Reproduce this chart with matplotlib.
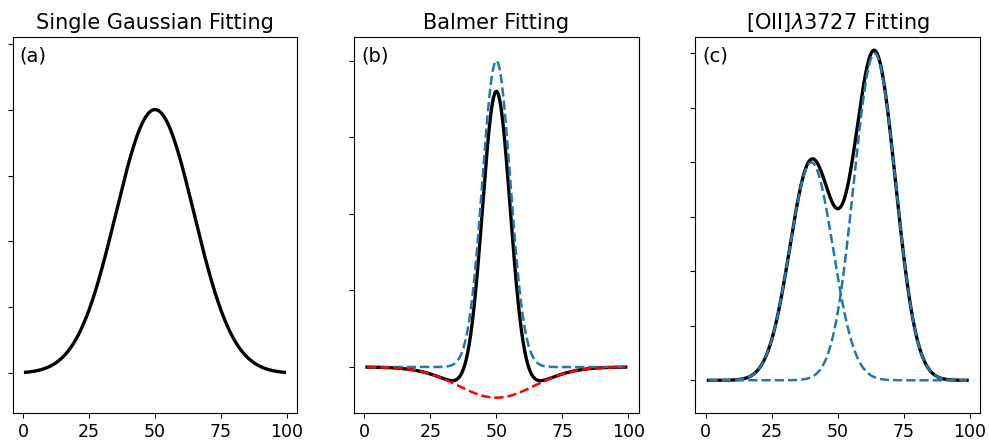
import numpy as np
import matplotlib.pyplot as plt

# ******************************** DATA ********************************
x = np.linspace(1, 99, 500)

# (a) single gaussian: amplitude, centre, sigma
single_amp, single_cen, single_sig = 4.0, 50.0, 14.8

# (b) balmer: narrow emission + broad absorption
balmer_emis = [4.0, 50.0, 5.3]
balmer_abs = [-0.4, 50.0, 14.5]

# (c) [OII] doublet: two emission components
oii_amp = [4.0, 6.0]
oii_cen = [40.0, 64.0]
oii_sig = [8.2, 7.9]

titles = ['Single Gaussian Fitting', 'Balmer Fitting', r'[OII]$\lambda$3727 Fitting']
panel_tags = ['(a)', '(b)', '(c)']
y_limits = [(-0.6, 5.1), (-0.6, 4.31), (-0.6, 6.3)]
y_ticks = [np.arange(0, 6), np.arange(0, 5), np.arange(0, 7)]
x_ticks = [0, 25, 50, 75, 100]


def gauss(xx, a, c, s):
    return a * np.exp(-(xx - c) ** 2 / (2.0 * s ** 2))


# ****************************************** PLOTTING *******************************************
fig, axes = plt.subplots(1, 3, figsize=(9.89, 4.43), dpi=100)
fig.subplots_adjust(left=12.7/989, right=980/989, top=1-37/443, bottom=1-413/443, wspace=0.2)

ax = axes[0]
ax.plot(x, gauss(x, single_amp, single_cen, single_sig), color='k', lw=2.4)

ax = axes[1]
emis = gauss(x, *balmer_emis)
absb = gauss(x, *balmer_abs)
ax.plot(x, emis + absb, color='k', lw=2.4)
ax.plot(x, emis, '--', color='C0', lw=1.8)
ax.plot(x, absb, '--', color='r', lw=1.8)

ax = axes[2]
comps = [gauss(x, a, c, s) for a, c, s in zip(oii_amp, oii_cen, oii_sig)]
ax.plot(x, comps[0] + comps[1], color='k', lw=2.4)
for comp in comps:
    ax.plot(x, comp, '--', color='C0', lw=1.8)

for i, ax in enumerate(axes):
    ax.set_title(titles[i], fontsize=15)
    ax.text(0.025, 0.975, panel_tags[i], transform=ax.transAxes, fontsize=14, va='top', ha='left')
    ax.set_ylim(*y_limits[i])
    ax.set_yticks(y_ticks[i])
    ax.set_yticklabels([])
    ax.set_xticks(x_ticks)
    ax.tick_params(axis='x', labelsize=12.5)

plt.savefig('out.png', dpi=100)
